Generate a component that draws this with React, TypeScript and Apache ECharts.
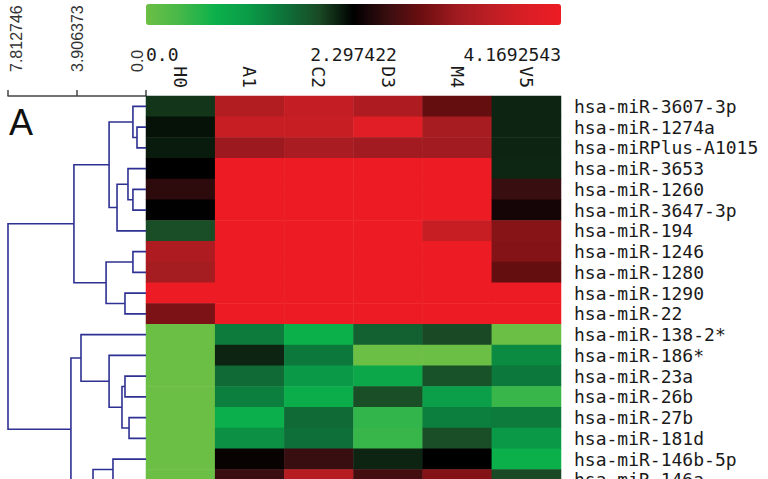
import { useEffect, useRef } from "react";
import * as echarts from "echarts";

// ---- data ----
const columns = ["H0", "A1", "C2", "D3", "M4", "V5"];
const rows = [
  "hsa-miR-3607-3p",
  "hsa-miR-1274a",
  "hsa-miRPlus-A1015",
  "hsa-miR-3653",
  "hsa-miR-1260",
  "hsa-miR-3647-3p",
  "hsa-miR-194",
  "hsa-miR-1246",
  "hsa-miR-1280",
  "hsa-miR-1290",
  "hsa-miR-22",
  "hsa-miR-138-2*",
  "hsa-miR-186*",
  "hsa-miR-23a",
  "hsa-miR-26b",
  "hsa-miR-27b",
  "hsa-miR-181d",
  "hsa-miR-146b-5p",
  "hsa-miR-146a",
];
const h0Values = [2.02, 2.21, 2.16, 2.30, 2.54, 2.29, 1.88, 3.38, 3.29, 4.17, 3.01, 0, 0, 0, 0, 0, 0, 0, 0];
const a1Values = [3.42, 3.65, 3.21, 4.17, 4.17, 4.17, 4.17, 4.17, 4.17, 4.17, 4.17, 1.45, 2.11, 1.61, 1.42, 0.78, 1.24, 2.34, 2.61];
const c2Values = [3.61, 3.65, 3.33, 4.17, 4.17, 4.17, 4.17, 4.17, 4.17, 4.17, 4.17, 0.77, 1.47, 1.15, 0.83, 1.61, 1.56, 2.60, 3.46];
const d3Values = [3.38, 3.98, 3.25, 4.17, 4.17, 4.17, 4.17, 4.17, 4.17, 4.17, 4.17, 1.70, 0, 0.92, 1.88, 0.51, 0.46, 2.11, 2.67];
const m4Values = [2.86, 3.31, 3.25, 4.17, 4.17, 4.17, 3.65, 4.17, 4.17, 4.17, 4.17, 1.91, 0, 1.84, 1.06, 1.42, 1.88, 2.30, 3.05];
const v5Values = [2.11, 2.11, 2.11, 2.10, 2.60, 2.41, 3.08, 3.05, 2.86, 4.17, 4.17, 0, 1.29, 1.47, 0.46, 1.45, 1.15, 0.77, 1.91];
const columnValues = [h0Values, a1Values, c2Values, d3Values, m4Values, v5Values];

// colour scale ticks (left, middle, right of the bar)
const barTickValues = [0.0, 2.297422, 4.1692543];
const barTickLabels = ["0.0", "2.297422", "4.1692543"];

// dendrogram distance scale
const treeTicks = [0, 3.906373, 7.812746];
const treeTickLabels = ["0.0", "3.906373", "7.812746"];

// leaves of the tree that lie below the cropped bottom edge
const hiddenLeafCount = 4;
// linkage: [childA, childB, height]; leaves 0..22, merge k creates node 23 + k
const linkage: [number, number, number][] = [
  [1, 2, 0.51],
  [0, 23, 0.74],
  [4, 5, 0.74],
  [3, 25, 1.02],
  [26, 6, 1.64],
  [24, 27, 2.09],
  [7, 8, 0.74],
  [9, 10, 1.19],
  [29, 30, 2.26],
  [28, 31, 4.08],
  [13, 14, 1.19],
  [15, 16, 0.96],
  [33, 34, 1.36],
  [12, 35, 2.09],
  [11, 36, 3.68],
  [17, 18, 1.87],
  [19, 20, 1.2],
  [21, 22, 1.5],
  [39, 40, 2.4],
  [38, 41, 3.0],
  [37, 42, 4.25],
  [32, 43, 7.812746],
];

const palette = [
  "#6CBF45", "#45B849", "#0BB04B", "#0A9A47", "#0D7239", "#1A4A25",
  "#000000",
  "#3A0E10", "#6E0E10", "#A01B20", "#BE1E24", "#DA1E25", "#ED1C24",
];

// ---- layout ----
const CHART_H = 479;
const ROW_H = 20.75;
const GRID_TOP = 96;
const HEAT_LEFT = 146;
const HEAT_W = 415;
const TREE_LEFT = 8;
const MONO = "'DejaVu Sans Mono', 'Liberation Mono', monospace";

function barPosition(v: number): number {
  const [lo, mid, hi] = barTickValues;
  let p = v <= mid ? ((v - lo) / (mid - lo)) * 0.5 : 0.5 + ((v - mid) / (hi - mid)) * 0.5;
  return Math.max(0, Math.min(1, p));
}

export default function App() {
  const ref = useRef<HTMLDivElement>(null);

  useEffect(() => {
    if (!ref.current) return;
    const chart = echarts.init(ref.current, undefined, { renderer: "svg" });

    const heatData: number[][] = [];
    columnValues.forEach((vals, c) => {
      vals.forEach((v, r) => heatData.push([c, r, v, barPosition(v)]));
    });

    const N = rows.length + hiddenLeafCount;
    const nodeY: number[] = [];
    const nodeH: number[] = [];
    for (let i = 0; i < N; i++) {
      nodeY[i] = i + 0.5;
      nodeH[i] = 0;
    }
    linkage.forEach(([a, b, h], k) => {
      nodeY[N + k] = (nodeY[a] + nodeY[b]) / 2;
      nodeH[N + k] = h;
    });
    const links = linkage.map(([a, b, h]) => [nodeH[a], nodeY[a], nodeH[b], nodeY[b], h]);

    const gridH = rows.length * ROW_H; // last row runs past the bottom edge (cropped)
    const treeMax = treeTicks[treeTicks.length - 1];

    const option: any = {
      animation: false,
      backgroundColor: "#ffffff",
      grid: [
        { left: HEAT_LEFT, top: GRID_TOP, width: HEAT_W, height: gridH, outerBoundsMode: "none", containLabel: false },
        { left: TREE_LEFT, top: GRID_TOP, width: HEAT_LEFT - TREE_LEFT, height: gridH, outerBoundsMode: "none", containLabel: false },
      ],
      xAxis: [
        {
          type: "category",
          gridIndex: 0,
          data: columns,
          position: "top",
          axisLine: { show: false },
          axisTick: { show: false },
          splitLine: { show: false },
          axisLabel: { interval: 0, rotate: 90, margin: 8, fontFamily: MONO, fontSize: 18, color: "#1a1a1a" },
        },
        {
          type: "value",
          gridIndex: 1,
          min: 0,
          max: treeMax,
          inverse: true,
          position: "top",
          offset: 8,
          splitLine: { show: false },
          axisLine: { show: true, lineStyle: { color: "#444", width: 1.5 } },
          axisTick: { show: true, length: 6, customValues: treeTicks, lineStyle: { color: "#444", width: 1.5 } },
          axisLabel: {
            rotate: 90,
            margin: 16,
            customValues: treeTicks,
            fontFamily: "'Liberation Sans', Arial, sans-serif",
            fontSize: 16,
            color: "#333",
            formatter: (v: number) => {
              const i = treeTicks.findIndex((t) => Math.abs(t - v) < 1e-6);
              if (i < 0) return "";
              if (i === 0) return "{max|" + treeTickLabels[i] + "}";
              if (i === treeTicks.length - 1) return "{min|" + treeTickLabels[i] + "}";
              return "{mid|" + treeTickLabels[i] + "}";
            },
            rich: {
              min: { fontFamily: "'Liberation Sans', Arial, sans-serif", fontSize: 16, color: "#333", padding: [16, 0, 0, 0] },
              mid: { fontFamily: "'Liberation Sans', Arial, sans-serif", fontSize: 16, color: "#333" },
              max: { fontFamily: "'Liberation Sans', Arial, sans-serif", fontSize: 16, color: "#333", padding: [0, 0, 18, 0] },
            },
          },
        },
      ],
      yAxis: [
        {
          type: "category",
          gridIndex: 0,
          data: rows,
          inverse: true,
          position: "right",
          axisLine: { show: false },
          axisTick: { show: false },
          splitLine: { show: false },
          axisLabel: { interval: 0, margin: 13, fontFamily: MONO, fontSize: 18, color: "#1a1a1a" },
        },
        {
          type: "value",
          gridIndex: 1,
          min: 0,
          max: rows.length,
          inverse: true,
          show: false,
        },
      ],
      visualMap: {
        type: "continuous",
        min: 0,
        max: 1,
        dimension: 3,
        seriesIndex: 0,
        orient: "horizontal",
        left: HEAT_LEFT,
        top: 4,
        itemWidth: 21,
        itemHeight: HEAT_W,
        padding: 0,
        calculable: false,
        hoverLink: false,
        inRange: { color: palette },
      },
      graphic: [
        ...barTickLabels.map((t, i) => ({
          type: "text",
          x: HEAT_LEFT + barPosition(barTickValues[i]) * HEAT_W,
          y: 54,
          style: {
            text: t,
            fontFamily: MONO,
            fontSize: 18,
            fill: "#1a1a1a",
            align: i === 0 ? "left" : i === barTickLabels.length - 1 ? "right" : "center",
            verticalAlign: "middle",
          },
        })),
        {
          type: "text",
          x: 9,
          y: 122,
          style: {
            text: "A",
            fontFamily: "'Liberation Sans', Arial, sans-serif",
            fontSize: 36,
            fill: "#111",
            align: "left",
            verticalAlign: "middle",
          },
        },
      ],
      series: [
        {
          type: "heatmap",
          xAxisIndex: 0,
          yAxisIndex: 0,
          data: heatData,
          itemStyle: { borderWidth: 0 },
          emphasis: { disabled: true },
        },
        {
          type: "custom",
          xAxisIndex: 1,
          yAxisIndex: 1,
          clip: false,
          data: links,
          encode: { x: [0, 2, 4], y: [1, 3] },
          renderItem: (_params: any, api: any) => {
            const p1 = api.coord([api.value(0), api.value(1)]);
            const p2 = api.coord([api.value(4), api.value(1)]);
            const p3 = api.coord([api.value(4), api.value(3)]);
            const p4 = api.coord([api.value(2), api.value(3)]);
            return {
              type: "polyline",
              shape: { points: [p1, p2, p3, p4] },
              style: { stroke: "#2E3192", lineWidth: 1.6, fill: null },
            };
          },
        },
      ],
    };

    chart.setOption(option);
    return () => chart.dispose();
  }, []);

  return (
    <div
      ref={ref}
      style={{ position: "fixed", left: 0, top: 0, width: 768, height: CHART_H, background: "#fff" }}
    />
  );
}
